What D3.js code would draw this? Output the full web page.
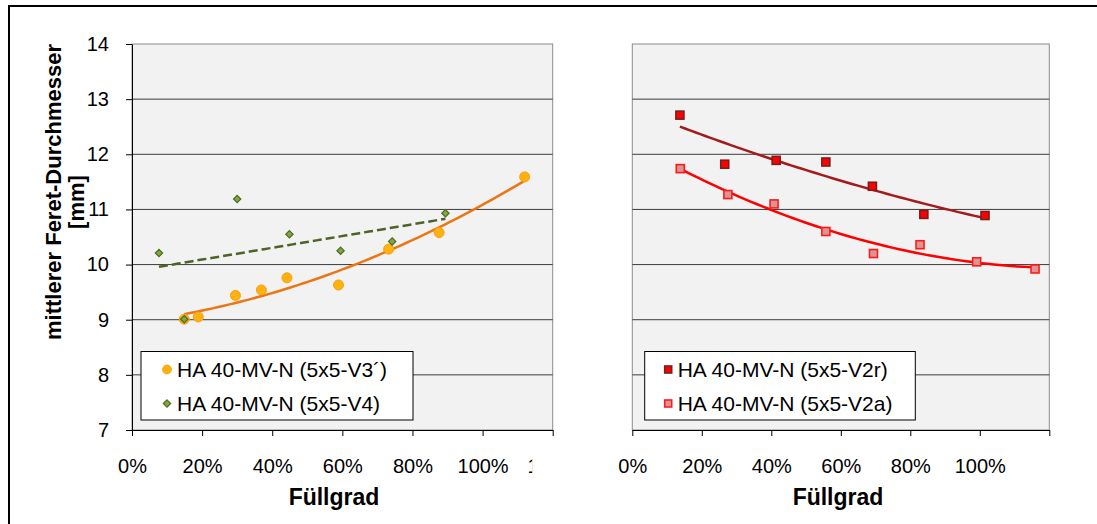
<!DOCTYPE html>
<html lang="de">
<head>
<meta charset="UTF-8">
<title>Feret-Durchmesser</title>
<script src="https://d3js.org/d3.v7.min.js"></script>
<style>
  body { margin: 0; background: #fff; }
  svg text { font-family: "Liberation Sans", Arial, sans-serif; fill: #000; }
  .tick text { font-size: 20px; }
  .legend text { font-size: 21px; }
  .title { font-size: 22px; font-weight: bold; }
  .xtitle { font-size: 23px; font-weight: bold; }
</style>
</head>
<body>
<script>
// Füllgrad in %, mittlerer Feret-Durchmesser in mm
var xV3 = [14.9, 18.9, 29.5, 36.9, 44.2, 58.9, 73.2, 87.6, 112];
var yV3 = [9.01, 9.05, 9.44, 9.54, 9.76, 9.63, 10.28, 10.58, 11.59];
var xV4 = [7.7, 14.9, 30, 44.9, 59.5, 74.2, 89.4];
var yV4 = [10.21, 9.01, 11.19, 10.55, 10.25, 10.42, 10.93];
var xV2r = [13.7, 26.6, 41.4, 55.7, 69.1, 83.9, 101.5];
var yV2r = [12.71, 11.82, 11.89, 11.86, 11.42, 10.91, 10.89];
var xV2a = [13.8, 27.5, 40.8, 55.7, 69.4, 82.8, 99.1, 115.9];
var yV2a = [11.74, 11.27, 11.10, 10.60, 10.20, 10.36, 10.05, 9.92];

var xTicks = [0, 20, 40, 60, 80, 100, 120];
var yTicks = [7, 8, 9, 10, 11, 12, 13, 14];
var names = ["HA 40-MV-N (5x5-V3´)", "HA 40-MV-N (5x5-V4)", "HA 40-MV-N (5x5-V2r)", "HA 40-MV-N (5x5-V2a)"];

function zip(xs, ys) { return xs.map(function(x, i) { return {x: x, y: ys[i]}; }); }

// least squares trend lines (like Excel's Trendlinie)
function fitLin(xs, ys) {
  var mx = d3.mean(xs), my = d3.mean(ys), sxy = 0, sxx = 0;
  xs.forEach(function(x, i) { sxy += (x - mx) * (ys[i] - my); sxx += (x - mx) * (x - mx); });
  var b = sxy / sxx;
  return function(x) { return my + b * (x - mx); };
}
function fitQuad(xs, ys) {
  var s = [0, 0, 0, 0, 0], t = [0, 0, 0];
  xs.forEach(function(x, i) {
    for (var k = 0; k < 5; k++) s[k] += Math.pow(x, k);
    for (var k = 0; k < 3; k++) t[k] += Math.pow(x, k) * ys[i];
  });
  var A = [[s[0], s[1], s[2], t[0]], [s[1], s[2], s[3], t[1]], [s[2], s[3], s[4], t[2]]];
  for (var i = 0; i < 3; i++)
    for (var j = i + 1; j < 3; j++) {
      var f = A[j][i] / A[i][i];
      for (var k = i; k < 4; k++) A[j][k] -= f * A[i][k];
    }
  var c = [0, 0, 0];
  for (var i = 2; i >= 0; i--) {
    var v = A[i][3];
    for (var k = i + 1; k < 3; k++) v -= A[i][k] * c[k];
    c[i] = v / A[i][i];
  }
  return function(x) { return c[0] + c[1] * x + c[2] * x * x; };
}
function trend(xs, fn) {
  var x0 = d3.min(xs), x1 = d3.max(xs);
  return d3.range(61).map(function(i) { var x = x0 + (x1 - x0) * i / 60; return {x: x, y: fn(x)}; });
}

var width = 1097, height = 524;
var svg = d3.select("body").append("svg").attr("width", width).attr("height", height);

// outer frame
svg.append("rect").attr("x", 9).attr("y", 6).attr("width", 1100).attr("height", 540)
   .attr("fill", "#fff").attr("stroke", "#000").attr("stroke-width", 2);

var y = d3.scaleLinear().domain([7, 14]).range([430, 44]);
var xL = d3.scaleLinear().domain([0, 120]).range([132, 552.7]);
var xR = d3.scaleLinear().domain([0, 120]).range([632.3, 1049.3]);

// the 120% label of the left chart is cut off in the original
svg.append("defs").append("clipPath").attr("id", "cut")
   .append("rect").attr("x", -100).attr("y", 0).attr("width", 79).attr("height", 60);

function panel(x, withY, clipLast, titleX) {
  var g = svg.append("g");
  g.append("rect").attr("x", x(0)).attr("y", y(14))
   .attr("width", x(120) - x(0)).attr("height", y(7) - y(14))
   .attr("fill", "#f2f2f2").attr("stroke", "#8c8c8c");
  g.selectAll("line.grid").data(yTicks.slice(1, -1)).join("line").attr("class", "grid")
   .attr("x1", x(0)).attr("x2", x(120)).attr("y1", y).attr("y2", y)
   .attr("stroke", "#3c3c3c").attr("stroke-width", 1);

  var ax = g.append("g").attr("transform", "translate(0,430)")
    .call(d3.axisBottom(x).tickValues(xTicks).tickSize(6).tickSizeOuter(0).tickPadding(23)
          .tickFormat(function(d) { return d + "%"; }));
  ax.select(".domain").attr("stroke", "#000");
  ax.selectAll(".tick line").attr("stroke", "#000");
  var last = ax.selectAll(".tick text").filter(function(d) { return d === 120; });
  if (clipLast) last.attr("clip-path", "url(#cut)"); else last.remove();

  if (withY) {
    var ay = g.append("g").attr("transform", "translate(" + x(0) + ",0)")
      .call(d3.axisLeft(y).tickValues(yTicks).tickSize(6).tickSizeOuter(0).tickPadding(17)
            .tickFormat(d3.format("d")));
    ay.select(".domain").attr("stroke", "#000");
    ay.selectAll(".tick line").attr("stroke", "#000");
  }

  g.append("text").attr("class", "xtitle").attr("x", titleX).attr("y", 505)
   .attr("text-anchor", "middle").text("Füllgrad");
  return g;
}

var gL = panel(xL, true, true, 334);
var gR = panel(xR, false, false, 838);

function line(x) {
  return d3.line().x(function(d) { return x(d.x); }).y(function(d) { return y(d.y); });
}

// left panel
gL.append("path").attr("d", line(xL)(trend(xV3, fitQuad(xV3, yV3))))
  .attr("fill", "none").attr("stroke", "#ec7516").attr("stroke-width", 2.5);
gL.append("path").attr("d", line(xL)(trend(xV4, fitLin(xV4, yV4))))
  .attr("fill", "none").attr("stroke", "#4f6228").attr("stroke-width", 2.5).attr("stroke-dasharray", "9,4");

gL.selectAll("circle.v3").data(zip(xV3, yV3)).join("circle").attr("class", "v3")
  .attr("cx", function(d) { return xL(d.x); }).attr("cy", function(d) { return y(d.y); }).attr("r", 5)
  .attr("fill", "#ffb10f").attr("stroke", "#f9a010").attr("stroke-width", 1);
var diamond = d3.symbol().type(d3.symbolDiamond2).size(34);
gL.selectAll("path.v4").data(zip(xV4, yV4)).join("path").attr("class", "v4")
  .attr("transform", function(d) { return "translate(" + xL(d.x) + "," + y(d.y) + ")"; })
  .attr("d", diamond).attr("fill", "#7fa93e").attr("stroke", "#4e6b22").attr("stroke-width", 1.2);

// right panel
gR.append("path").attr("d", line(xR)(trend(xV2r, fitQuad(xV2r, yV2r))))
  .attr("fill", "none").attr("stroke", "#a51a1a").attr("stroke-width", 2.5);
gR.append("path").attr("d", line(xR)(trend(xV2a, fitQuad(xV2a, yV2a))))
  .attr("fill", "none").attr("stroke", "#ff0000").attr("stroke-width", 2.5);

function squares(g, data, cls, fill, stroke) {
  g.selectAll("rect." + cls).data(data).join("rect").attr("class", cls)
   .attr("x", function(d) { return xR(d.x) - 4; }).attr("y", function(d) { return y(d.y) - 4; })
   .attr("width", 8).attr("height", 8)
   .attr("fill", fill).attr("stroke", stroke).attr("stroke-width", 1.6);
}
squares(gR, zip(xV2r, yV2r), "v2r", "#ff0000", "#7a1d1d");
squares(gR, zip(xV2a, yV2a), "v2a", "#d99594", "#ff1a1a");

// legends
function legend(x0, x1, rows) {
  var lg = svg.append("g").attr("class", "legend");
  lg.append("rect").attr("x", x0).attr("y", 351.5).attr("width", x1 - x0).attr("height", 68.5)
    .attr("fill", "#fff").attr("stroke", "#000").attr("stroke-width", 1);
  rows.forEach(function(r, i) {
    var cy = 369.5 + i * 34;
    r.mark(lg, x0 + r.mx, cy);
    lg.append("text").attr("x", x0 + r.tx).attr("y", cy + 7.5).text(r.name);
  });
}
legend(141, 413, [
  {name: names[0], mx: 26, tx: 36, mark: function(g, cx, cy) {
    g.append("circle").attr("cx", cx).attr("cy", cy).attr("r", 4.4).attr("fill", "#ffb10f").attr("stroke", "#f9a010"); }},
  {name: names[1], mx: 26, tx: 36, mark: function(g, cx, cy) {
    g.append("path").attr("transform", "translate(" + cx + "," + cy + ")").attr("d", diamond)
     .attr("fill", "#7fa93e").attr("stroke", "#4e6b22").attr("stroke-width", 1.2); }}
]);
legend(644.7, 915.3, [
  {name: names[2], mx: 23.5, tx: 33, mark: function(g, cx, cy) {
    g.append("rect").attr("x", cx - 3.5).attr("y", cy - 3.5).attr("width", 7).attr("height", 7)
     .attr("fill", "#ff0000").attr("stroke", "#7a1d1d").attr("stroke-width", 1.6); }},
  {name: names[3], mx: 23.5, tx: 33, mark: function(g, cx, cy) {
    g.append("rect").attr("x", cx - 3.5).attr("y", cy - 3.5).attr("width", 7).attr("height", 7)
     .attr("fill", "#d99594").attr("stroke", "#ff1a1a").attr("stroke-width", 1.6); }}
]);

// y axis title
svg.append("text").attr("class", "title").attr("text-anchor", "middle")
  .attr("transform", "translate(0,193) rotate(-90)")
  .call(function(t) {
    t.append("tspan").attr("x", 1).attr("y", 61).text("mittlerer Feret-Durchmesser");
    t.append("tspan").attr("x", -9).attr("y", 84).text("[mm]");
  });
</script>
</body>
</html>
